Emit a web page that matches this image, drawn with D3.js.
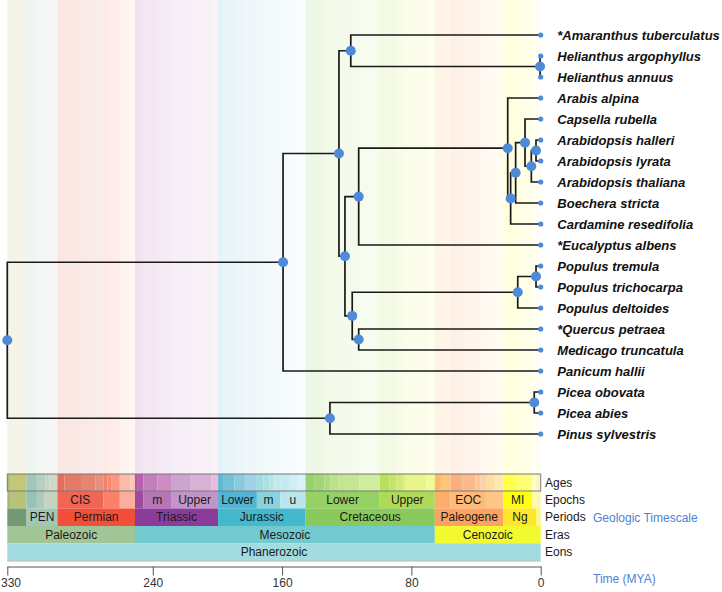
<!DOCTYPE html>
<html><head><meta charset="utf-8">
<script src="https://cdn.jsdelivr.net/npm/d3@7"></script>
<style>body{margin:0;background:#fff;} svg{display:block;font-family:"Liberation Sans",Arial,sans-serif;}</style>
</head><body><svg id="c" width="722" height="592"></svg>
<script>
// ---------- DATA ----------
const tipLabels = ["*Amaranthus tuberculatus","Helianthus argophyllus","Helianthus annuus","Arabis alpina","Capsella rubella","Arabidopsis halleri","Arabidopsis lyrata","Arabidopsis thaliana","Boechera stricta","Cardamine resedifolia","*Eucalyptus albens","Populus tremula","Populus trichocarpa","Populus deltoides","*Quercus petraea","Medicago truncatula","Panicum hallii","Picea obovata","Picea abies","Pinus sylvestris"];
const nodeNames = ["root","angio","core","amar","heli","rosids","malv","brass","b6","b5","b2","b4","b3","fab","pop","pop2","qm","conif","picea"];
const nodeAges  = [330,159.4,124.8,117.5,0.4,121.1,112.6,20.4,18.6,15.5,9.7,5.8,2.9,116.6,14.2,2.9,112.6,130.4,4.0];
const edges = [
 ["root","angio"],["root","conif"],
 ["angio","core"],["angio","Panicum hallii"],
 ["core","amar"],["core","rosids"],
 ["amar","*Amaranthus tuberculatus"],["amar","heli"],
 ["heli","Helianthus argophyllus"],["heli","Helianthus annuus"],
 ["rosids","malv"],["rosids","fab"],
 ["malv","brass"],["malv","*Eucalyptus albens"],
 ["brass","Arabis alpina"],["brass","b6"],
 ["b6","b5"],["b6","Cardamine resedifolia"],
 ["b5","b2"],["b5","Boechera stricta"],
 ["b2","Capsella rubella"],["b2","b4"],
 ["b4","b3"],["b4","Arabidopsis thaliana"],
 ["b3","Arabidopsis halleri"],["b3","Arabidopsis lyrata"],
 ["fab","pop"],["fab","qm"],
 ["pop","pop2"],["pop","Populus deltoides"],
 ["pop2","Populus tremula"],["pop2","Populus trichocarpa"],
 ["qm","*Quercus petraea"],["qm","Medicago truncatula"],
 ["conif","picea"],["conif","Pinus sylvestris"],
 ["picea","Picea obovata"],["picea","Picea abies"]
];
const tickValues = [330,240,160,80,0];

// Geologic timescale (GTS 2004): [start, end, color, label]
const eons = [[542,0,"#9AD9DD","Phanerozoic"]];
const eras = [[542,251,"#99C08D","Paleozoic"],[251,65.5,"#67C5CA","Mesozoic"],[65.5,0,"#F2F91D","Cenozoic"]];
const periods = [[359.2,318.1,"#678F66",""],[318.1,299,"#99C2B5","PEN"],[299,251,"#F04028","Permian"],[251,199.6,"#812B92","Triassic"],[199.6,145.5,"#34B2C9","Jurassic"],[145.5,65.5,"#7FC64E","Cretaceous"],[65.5,23.03,"#FD9A52","Paleogene"],[23.03,2.588,"#FFE619","Ng"],[2.588,0,"#F9F97F",""]];
const epochs = [[345.3,328.3,"#99B46C",""],[328.3,318.1,"#B3BE6C",""],[318.1,311.7,"#8CBEB4",""],[311.7,307.2,"#A6C7B7",""],[307.2,299,"#BFD0BA",""],[299,270.6,"#EF5845","CIS"],[270.6,260.4,"#FB745C",""],[260.4,251,"#FBA794",""],[251,245.9,"#983999",""],[245.9,228.7,"#B168B1","m"],[228.7,199.6,"#BD8CC3","Upper"],[199.6,175.6,"#42AED0","Lower"],[175.6,161.2,"#80CFD8","m"],[161.2,145.5,"#B3E3EE","u"],[145.5,99.6,"#8CCD57","Lower"],[99.6,65.5,"#A6D84A","Upper"],[65.5,55.8,"#FDA75F",""],[55.8,33.9,"#FDB46C","EOC"],[33.9,23.03,"#FEC07A",""],[23.03,5.332,"#FFFF00","MI"],[5.332,2.588,"#FFFF99",""],[2.588,0.0117,"#FFF2AE",""],[0.0117,0,"#FEF2E0",""]];
const ages = [[345.3,328.3,"#A6B96C"],[328.3,318.1,"#BFC26B"],[318.1,311.7,"#99C2B5"],[311.7,306.5,"#B3CBB9"],[306.5,303.9,"#BFD0C5"],[303.9,299,"#CCD4C7"],
 [299,294.6,"#E36350"],[294.6,284.4,"#E36F5C"],[284.4,275.6,"#E37B68"],[275.6,270.6,"#E38776"],[270.6,268,"#FB745C"],[268,265.8,"#FB8069"],[265.8,260.4,"#FB8D76"],[260.4,253.8,"#FCB4A2"],[253.8,251,"#FCC0B2"],
 [251,249.7,"#A4469F"],[249.7,245.9,"#B051A5"],[245.9,237,"#BC75B7"],[237,228.7,"#C983BF"],[228.7,216.5,"#C99BCB"],[216.5,203.6,"#D6AAD3"],[203.6,199.6,"#E3B9DB"],
 [199.6,196.5,"#4EB3D3"],[196.5,189.6,"#67BCD8"],[189.6,183,"#80C5DD"],[183,175.6,"#99CEE3"],[175.6,171.6,"#9AD9DD"],[171.6,167.7,"#A6DDE0"],[167.7,164.7,"#B3E2E3"],[164.7,161.2,"#BFE7E5"],[161.2,155.7,"#BFE7F1"],[155.7,150.8,"#CCECF4"],[150.8,145.5,"#D9F1F7"],
 [145.5,140.2,"#8CCD60"],[140.2,133.9,"#99D36A"],[133.9,130,"#A6D975"],[130,125,"#B3DF7F"],[125,112,"#BFE48A"],[112,99.6,"#CCEA97"],[99.6,93.5,"#B3DE53"],[93.5,89.3,"#BFE35D"],[89.3,85.8,"#CCE968"],[85.8,83.5,"#D9EF74"],[83.5,70.6,"#E6F47F"],[70.6,65.5,"#F2FA8C"],
 [65.5,61.7,"#FDB462"],[61.7,58.7,"#FEBF65"],[58.7,55.8,"#FDBF6F"],[55.8,48.6,"#FCA773"],[48.6,40.4,"#FCB482"],[40.4,37.2,"#FDC091"],[37.2,33.9,"#FDCDA1"],[33.9,28.4,"#FED99A"],[28.4,23.03,"#FEE6AA"],
 [23.03,20.43,"#FFFF33"],[20.43,15.97,"#FFFF41"],[15.97,13.65,"#FFFF4D"],[13.65,11.61,"#FFFF59"],[11.61,7.246,"#FFFF66"],[7.246,5.332,"#FFFF73"],[5.332,3.6,"#FFFFB3"],[3.6,2.588,"#FFFFBF"],[2.588,1.806,"#FFEDB3"],[1.806,0.781,"#FFF2BA"],[0.781,0.126,"#FFF2C7"],[0.126,0.0117,"#FFF2D3"],[0.0117,0,"#FEF2E0"]];
const rowNames = ["Ages","Epochs","Periods","Eras","Eons"];

// ---------- LAYOUT ----------
const svg = d3.select("#c");
const x = d3.scaleLinear().domain([330,0]).range([7.3,540.7]);
const y = d3.scaleLinear().domain([0,tipLabels.length-1]).range([35,434]);
const clampAge = a => Math.max(0, Math.min(330, a));

// build tree
const nodeMap = new Map();
nodeNames.forEach((n,i)=>nodeMap.set(n,{id:n,age:nodeAges[i],children:[]}));
tipLabels.forEach((t,i)=>nodeMap.set(t,{id:t,age:0,children:[],tip:true,idx:i}));
edges.forEach(([p,c])=>nodeMap.get(p).children.push(nodeMap.get(c)));
function setY(n){ if(n.tip){n.y=y(n.idx);return n.y;} n.y=d3.mean(n.children.map(setY)); return n.y; }
setY(nodeMap.get("root"));

// background stage bands
const tsTop = 474;
svg.append("g").selectAll("rect").data(ages).join("rect")
  .attr("x",d=>x(clampAge(d[0]))).attr("width",d=>x(clampAge(d[1]))-x(clampAge(d[0])))
  .attr("y",0).attr("height",tsTop).attr("fill",d=>d[2]).attr("fill-opacity",0.16);

// timescale rows
const rowTops = [474,491,508.5,526,543.3,561];
const rowData = [ages,epochs,periods,eras,eons];
const ts = svg.append("g");
rowData.forEach((arr,ri)=>{
  const y0=rowTops[ri], h=rowTops[ri+1]-rowTops[ri];
  const vis = arr.filter(d=>d[0]>0 && d[1]<330);
  ts.append("g").selectAll("rect").data(vis).join("rect")
    .attr("x",d=>x(clampAge(d[0]))).attr("width",d=>x(clampAge(d[1]))-x(clampAge(d[0])))
    .attr("y",y0).attr("height",h).attr("fill",d=>d[2]).attr("fill-opacity",0.92);
  ts.append("g").selectAll("text").data(vis.filter(d=>d[3])).join("text")
    .attr("x",d=>(x(clampAge(d[0]))+x(clampAge(d[1])))/2).attr("y",y0+h/2).attr("dy","0.35em")
    .attr("text-anchor","middle").attr("font-size",12).attr("fill","#1a1a1a").text(d=>d[3]);
  ts.append("text").attr("x",545).attr("y",y0+h/2).attr("dy","0.35em").attr("font-size",12).attr("fill","#1a1a1a").text(rowNames[ri]);
});
ts.append("rect").attr("x",x(330)).attr("y",rowTops[0]).attr("width",x(0)-x(330)).attr("height",rowTops[1]-rowTops[0])
  .attr("fill","none").attr("stroke","#7a7a7a").attr("stroke-width",1);
ts.append("line").attr("x1",x(330)).attr("x2",x(0)).attr("y1",561).attr("y2",561).attr("stroke","#bbb").attr("stroke-width",1);
svg.append("text").attr("x",593).attr("y",517.3).attr("dy","0.35em").attr("font-size",12).attr("fill","#4a83d6").text("Geologic Timescale");
svg.append("text").attr("x",593).attr("y",578.5).attr("dy","0.35em").attr("font-size",12).attr("fill","#4a83d6").text("Time (MYA)");

// tree edges
const allNodes = Array.from(nodeMap.values());
const eg = svg.append("g");
edges.forEach(([p,c])=>{
  const P=nodeMap.get(p), C=nodeMap.get(c);
  eg.append("path").attr("d",`M${x(P.age)},${P.y}V${C.y}H${x(C.age)}`)
    .attr("fill","none").attr("stroke","#1a1a1a").attr("stroke-width",1.7).attr("stroke-linecap","square");
});
// points
svg.append("g").selectAll("circle").data(allNodes).join("circle")
  .attr("cx",d=>x(d.age)).attr("cy",d=>d.y).attr("r",d=>d.tip?2.6:5)
  .attr("fill","#4f8ad9");
// tip labels
svg.append("g").selectAll("text").data(allNodes.filter(d=>d.tip)).join("text")
  .attr("x",d=>x(d.age)+16.6).attr("y",d=>d.y).attr("dy","0.35em")
  .attr("font-size",13).attr("font-weight","bold").attr("font-style","italic").attr("fill","#111")
  .text(d=>d.id);

// axis
const ax = svg.append("g").attr("transform","translate(0,566.5)")
  .call(d3.axisBottom(x).tickValues(tickValues).tickSize(9).tickSizeOuter(0).tickPadding(3));
ax.select(".domain").attr("stroke","#555");
ax.selectAll(".tick line").attr("stroke","#555");
ax.selectAll(".tick text").attr("font-size",12).attr("fill","#333").attr("font-family","Liberation Sans, Arial, sans-serif");
// keep the leftmost label inside the frame
ax.selectAll(".tick text").filter(d=>d===330).attr("text-anchor","start").attr("x",-x(330)+0.5);
</script></body></html>
